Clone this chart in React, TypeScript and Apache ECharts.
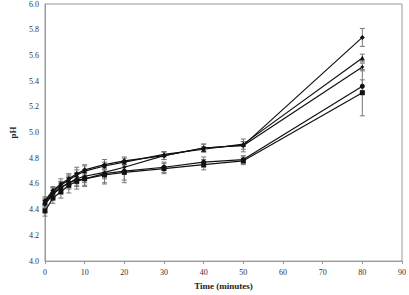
import React, { useEffect, useRef } from "react";
import * as echarts from "echarts";

const times = [0, 2, 4, 6, 8, 10, 15, 20, 30, 40, 50, 80];
const seriesA = [4.47, 4.55, 4.6, 4.64, 4.68, 4.71, 4.75, 4.78, 4.82, 4.88, 4.9, 5.74];
const seriesB = [4.46, 4.54, 4.59, 4.63, 4.67, 4.7, 4.74, 4.77, 4.83, 4.87, 4.91, 5.58];
const seriesC = [4.44, 4.52, 4.57, 4.61, 4.64, 4.66, 4.69, 4.73, 4.82, 4.88, 4.9, 5.51];
const seriesD = [4.45, 4.53, 4.57, 4.61, 4.63, 4.64, 4.68, 4.7, 4.73, 4.77, 4.79, 5.36];
const seriesE = [4.39, 4.49, 4.54, 4.59, 4.62, 4.64, 4.67, 4.69, 4.72, 4.75, 4.78, 5.31];
const errA = [0.03, 0.03, 0.04, 0.04, 0.05, 0.04, 0.04, 0.03, 0.03, 0.03, 0.03, 0.07];
const errB = [0.03, 0.03, 0.03, 0.04, 0.04, 0.04, 0.03, 0.03, 0.02, 0.02, 0.02, 0.03];
const errC = [0.03, 0.03, 0.04, 0.04, 0.05, 0.05, 0.05, 0.04, 0.03, 0.03, 0.05, 0.03];
const errD = [0.03, 0.04, 0.05, 0.05, 0.05, 0.05, 0.07, 0.07, 0.04, 0.04, 0.03, 0.05];
const errE = [0.04, 0.04, 0.05, 0.06, 0.06, 0.06, 0.07, 0.08, 0.04, 0.04, 0.03, 0.18];
const symbols = ["diamond", "triangle", "diamond", "circle", "rect"];
const symbolSizes = [5, 5, 4, 5, 5];
const yTicks = ["4.0", "4.2", "4.4", "4.6", "4.8", "5.0", "5.2", "5.4", "5.6", "5.8", "6.0"];

const allSeries = [seriesA, seriesB, seriesC, seriesD, seriesE];
const allErr = [errA, errB, errC, errD, errE];

export default function App() {
  const ref = useRef<HTMLDivElement>(null);
  useEffect(() => {
    if (!ref.current) return;
    const chart = echarts.init(ref.current, undefined, { renderer: "svg" });
    const font = "'Liberation Serif', 'Times New Roman', serif";
    const errSeries: any[] = allSeries.map((vals, si) => ({
      type: "custom",
      z: 1,
      silent: true,
      data: times.map((t, i) => [t, vals[i] - allErr[si][i], vals[i] + allErr[si][i]]),
      renderItem: (params: any, api: any) => {
        const x = api.value(0);
        const lo = api.coord([x, api.value(1)]);
        const hi = api.coord([x, api.value(2)]);
        const w = 2.5;
        const style = { stroke: "#777", lineWidth: 1 };
        return {
          type: "group",
          children: [
            { type: "line", shape: { x1: lo[0], y1: lo[1], x2: hi[0], y2: hi[1] }, style },
            { type: "line", shape: { x1: lo[0] - w, y1: lo[1], x2: lo[0] + w, y2: lo[1] }, style },
            { type: "line", shape: { x1: hi[0] - w, y1: hi[1], x2: hi[0] + w, y2: hi[1] }, style },
          ],
        };
      },
    }));
    const lineSeries: any[] = allSeries.map((vals, si) => ({
      type: "line",
      z: 2,
      data: times.map((t, i) => [t, vals[i]]),
      symbol: symbols[si],
      symbolSize: symbolSizes[si],
      showAllSymbol: true,
      lineStyle: { color: "#111", width: 1.2 },
      itemStyle: { color: "#111" },
    }));
    chart.setOption({
      animation: false,
      grid: {
        left: 40.5,
        right: 4,
        top: 2,
        bottom: 30,
        show: true,
        borderColor: "#999",
        borderWidth: 1,
      },
      xAxis: {
        type: "value",
        min: 0,
        max: 90,
        interval: 10,
        name: "Time (minutes)",
        nameLocation: "middle",
        nameGap: 19,
        nameTextStyle: { fontFamily: font, fontSize: 9, fontWeight: "bold", color: "#222" },
        axisLine: { show: true, lineStyle: { color: "#999" } },
        axisTick: { show: true, length: 3, lineStyle: { color: "#999" } },
        axisLabel: { fontFamily: font, fontSize: 8, color: "#333", margin: 7 },
        splitLine: { show: false },
      },
      yAxis: {
        type: "value",
        min: 4.0,
        max: 6.0,
        interval: 0.2,
        name: "pH",
        nameLocation: "middle",
        nameGap: 28,
        nameRotate: 90,
        nameTextStyle: { fontFamily: font, fontSize: 9, fontWeight: "bold", color: "#222" },
        axisLine: { show: true, lineStyle: { color: "#999" } },
        axisTick: { show: false },
        axisLabel: {
          fontFamily: font,
          fontSize: 8,
          color: "#333",
          margin: 6,
          formatter: (v: number) => yTicks[Math.round((v - 4) / 0.2)] ?? v.toFixed(1),
        },
        splitLine: { show: false },
      },
      series: [...errSeries, ...lineSeries],
    });
    return () => chart.dispose();
  }, []);
  return <div ref={ref} style={{ width: 409, height: 295, position: "absolute", left: 0, top: 0 }} />;
}
